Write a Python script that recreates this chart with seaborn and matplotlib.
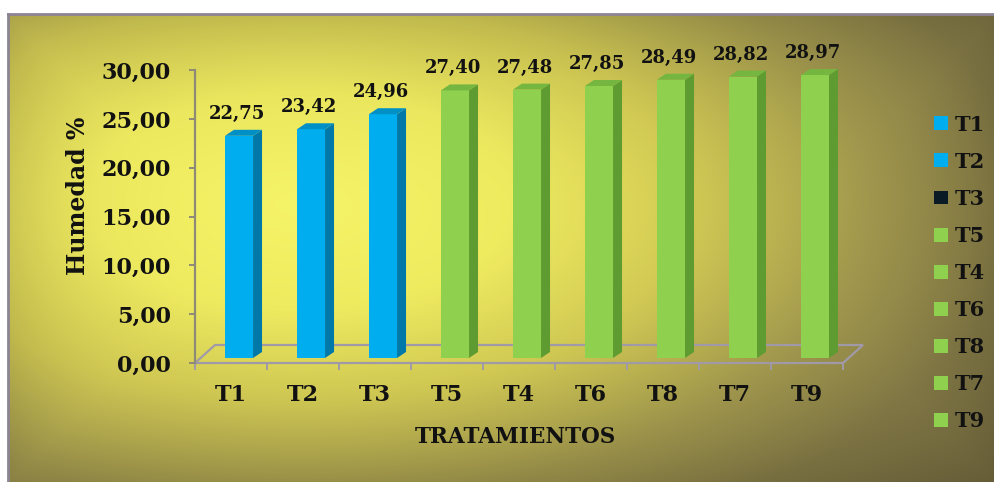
import numpy as np
import matplotlib
matplotlib.use("Agg")
import matplotlib.pyplot as plt
import matplotlib.transforms as mtransforms
from matplotlib.patches import Polygon, Patch
from matplotlib.ticker import FuncFormatter, FixedLocator
import seaborn as sns

# ---- data -------------------------------------------------------------
categories = ["T1", "T2", "T3", "T5", "T4", "T6", "T8", "T7", "T9"]
humedad = [22.75, 23.42, 24.96, 27.40, 27.48, 27.85, 28.49, 28.82, 28.97]
legend_labels = ["T1", "T2", "T3", "T5", "T4", "T6", "T8", "T7", "T9"]

# ---- colours ----------------------------------------------------------
BLUE, BLUE_SIDE, BLUE_TOP = "#00aeef", "#0079a8", "#0090c6"
GREEN, GREEN_SIDE, GREEN_TOP = "#8fd14f", "#5e9c32", "#74b63f"
DARK = "#0b1b26"
front_cols = [BLUE] * 3 + [GREEN] * 6
side_cols = [BLUE_SIDE] * 3 + [GREEN_SIDE] * 6
top_cols = [BLUE_TOP] * 3 + [GREEN_TOP] * 6
legend_cols = [BLUE, BLUE, DARK] + [GREEN] * 6
FLOOR = "#a09aa8"
TXT = "#111111"
FONT = "DejaVu Serif"

sns.set_theme(style="white")
plt.rcParams["font.family"] = FONT
plt.rcParams["font.weight"] = "bold"

W, H = 995, 482
fig = plt.figure(figsize=(W / 100, H / 100), dpi=100)
fig.patch.set_facecolor("white")

# ---- panel background: yellow glow fading to olive ----------------------
px0, py0 = 8, 14
pw, ph = W - px0, H - py0
yy, xx = np.mgrid[0:ph, 0:pw]
gx, gy = xx + px0, yy + py0
t = np.sqrt(((gx - 300) / 600.0) ** 2 + ((gy - 200) / 310.0) ** 2)
stops = [0.0, 0.35, 0.65, 0.95, 1.2, 1.6]
cols = np.array([[246, 244, 104], [240, 236, 96], [210, 202, 84],
                 [162, 152, 78], [130, 120, 70], [104, 95, 58]], float)
img = np.dstack([np.interp(t, stops, cols[:, k]) for k in range(3)])
edge = np.minimum(np.minimum(xx, yy), np.minimum(pw - xx, ph - yy)).astype(float)
img *= (1 - 0.10 * np.exp(-edge / 60.0))[..., None]
img = np.clip(img / 255.0, 0, 1)

bg = fig.add_axes([px0 / W, 0, pw / W, ph / H], zorder=-10)
bg.imshow(img, aspect="auto", extent=(0, 1, 0, 1), interpolation="bilinear")
bg.set_xticks([]); bg.set_yticks([])
for s in ("right", "bottom"):
    bg.spines[s].set_visible(False)
for s in ("top", "left"):
    bg.spines[s].set_color("#8c8494")
    bg.spines[s].set_linewidth(2)

# ---- main axes --------------------------------------------------------
ax_l, ax_r, ax_t, ax_b = 195, 843, 70, 363
ax = fig.add_axes([ax_l / W, (H - ax_b) / H, (ax_r - ax_l) / W, (ax_b - ax_t) / H])
ax.set_facecolor("none")

sns.barplot(x=categories, y=humedad, hue=categories, palette=front_cols,
            width=0.39, saturation=1, legend=False, ax=ax, zorder=3,
            edgecolor="none")
ax.set_xlim(-0.5, 8.5)
ax.set_ylim(0, 30)

# depth of the bars (pixels) and of the floor
SHIFT = (8, 5)
DEPTH = (9, 6)
FLOOR_D = (20, 18)

shift_tr = ax.transData + mtransforms.Affine2D().translate(*SHIFT)
ident = mtransforms.IdentityTransform()
for i, p in enumerate(ax.patches[:len(categories)]):
    p.set_transform(shift_tr)
    p.set_clip_on(False)
    x0, w, h = p.get_x(), p.get_width(), p.get_height()
    (X0, Y0), (X1, Y1) = ax.transData.transform([(x0, 0), (x0 + w, h)])
    X0 += SHIFT[0]; X1 += SHIFT[0]; Y0 += SHIFT[1]; Y1 += SHIFT[1]
    dx, dy = DEPTH
    side = Polygon([(X1, Y0), (X1 + dx, Y0 + dy), (X1 + dx, Y1 + dy), (X1, Y1)],
                   closed=True, transform=ident, facecolor=side_cols[i],
                   edgecolor="none", zorder=3, clip_on=False)
    top = Polygon([(X0, Y1), (X1, Y1), (X1 + dx, Y1 + dy), (X0 + dx, Y1 + dy)],
                  closed=True, transform=ident, facecolor=top_cols[i],
                  edgecolor="none", zorder=3, clip_on=False)
    ax.add_patch(side)
    ax.add_patch(top)
    # value label
    ax.annotate(f"{humedad[i]:.2f}".replace(".", ","), xy=(i, humedad[i]),
                xytext=(6, 22), textcoords="offset pixels", ha="center",
                va="baseline", fontsize=13, fontweight="bold", color=TXT,
                family=FONT, annotation_clip=False)

# floor
(FX0, FY0), (FX1, _) = ax.transData.transform([(-0.5, 0), (8.5, 0)])
fdx, fdy = FLOOR_D
floor = Polygon([(FX0, FY0), (FX1, FY0), (FX1 + fdx, FY0 + fdy), (FX0 + fdx, FY0 + fdy)],
                closed=True, transform=ident, facecolor="none", edgecolor=FLOOR,
                lw=1.6, zorder=1, clip_on=False)
ax.add_patch(floor)

# axes styling
for s in ("top", "right", "bottom"):
    ax.spines[s].set_visible(False)
ax.spines["left"].set_color("#8e8a78")
ax.spines["left"].set_linewidth(1.6)
ax.set_yticks(np.arange(0, 31, 5))
ax.yaxis.set_major_formatter(FuncFormatter(lambda v, _: f"{v:.2f}".replace(".", ",")))
ax.tick_params(axis="y", left=True, length=4.5, width=1.4, color="#8e8a78",
               pad=13, labelsize=16, labelcolor=TXT)
ax.xaxis.set_minor_locator(FixedLocator(np.arange(-0.5, 9, 1)))
ax.tick_params(axis="x", which="major", bottom=True, length=0, pad=15,
               labelsize=16, labelcolor=TXT)
ax.tick_params(axis="x", which="minor", bottom=True, length=5, width=1.4,
               color=FLOOR)
for lab in ax.get_xticklabels() + ax.get_yticklabels():
    lab.set_fontweight("bold")
ax.grid(False)

ax.set_xlabel("TRATAMIENTOS", fontsize=15.5, fontweight="bold", color=TXT)
ax.xaxis.set_label_coords((515 - ax_l) / (ax_r - ax_l), (ax_b - 437) / (ax_b - ax_t))
ax.xaxis.label.set_va("center")
ax.set_ylabel("Humedad %", fontsize=17, fontweight="bold", color=TXT)
ax.yaxis.set_label_coords((78 - ax_l) / (ax_r - ax_l), (ax_b - 196) / (ax_b - ax_t))
ax.yaxis.label.set_va("center")
ax.yaxis.label.set_rotation_mode("anchor")

# legend
handles = [Patch(facecolor=c, edgecolor="none") for c in legend_cols]
fig.legend(handles, legend_labels, loc="center left",
           bbox_to_anchor=(934 / W, 1 - 273 / H), frameon=False,
           prop={"family": FONT, "weight": "bold", "size": 15},
           handlelength=0.65, handleheight=0.65, handletextpad=0.35,
           labelspacing=0.82, borderpad=0, borderaxespad=0,
           labelcolor=TXT)

fig.savefig("out.png", dpi=100)
